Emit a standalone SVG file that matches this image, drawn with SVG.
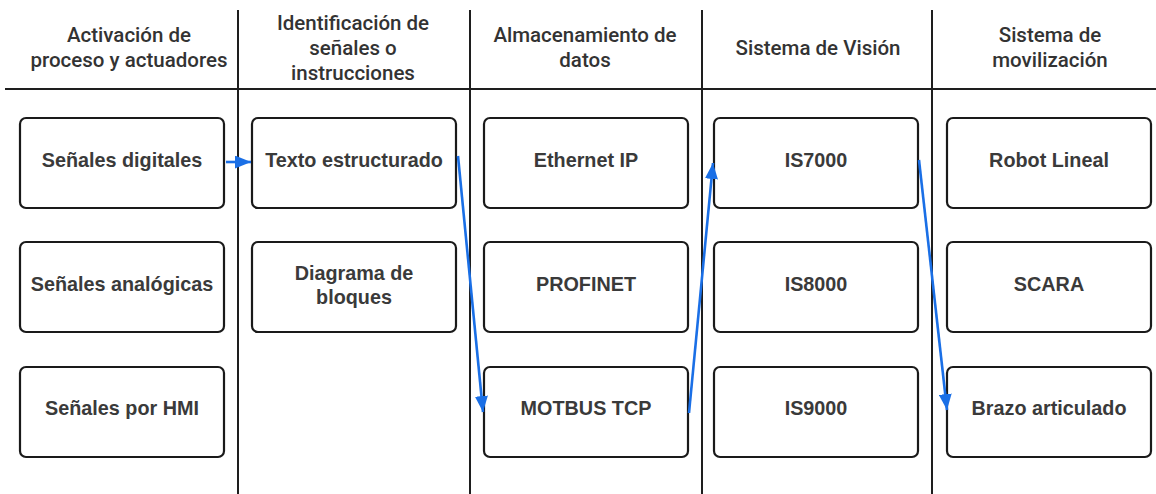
<svg xmlns="http://www.w3.org/2000/svg" width="1156" height="494" viewBox="0 0 1156 494">
<style>
.hdr{font-family:Roboto,"Liberation Sans",sans-serif;font-size:20.5px;font-weight:500;fill:#333;text-anchor:middle}
.lane{stroke:#1e1e1e;stroke-width:2;fill:none}
.box{fill:#fff;stroke:#1a1a1a;stroke-width:2.2}
.lbl{font-family:"Liberation Sans",Arial,sans-serif;font-size:19.8px;font-weight:bold;fill:#3a3a3a;text-anchor:middle}
.conn{stroke:#1a6fe6;stroke-width:2.6;fill:none}
</style>
<defs>
<marker id="ah" markerUnits="userSpaceOnUse" markerWidth="17" markerHeight="13" refX="16" refY="6.5" orient="auto">
<path d="M0,0 L16,6.5 L0,13 z" fill="#1a6fe6"/>
</marker>
</defs>
<g id="lanes">
<line class="lane" x1="5" y1="89" x2="1156" y2="89"/>
<line class="lane" x1="238" y1="10" x2="238" y2="494"/>
<line class="lane" x1="470" y1="10" x2="470" y2="494"/>
<line class="lane" x1="702" y1="10" x2="702" y2="494"/>
<line class="lane" x1="932" y1="10" x2="932" y2="494"/>
</g>
<g id="headers">
<text class="hdr" x="129" y="42">Activación de</text>
<text class="hdr" x="129" y="67">proceso y actuadores</text>
<text class="hdr" x="353" y="30">Identificación de</text>
<text class="hdr" x="353" y="55">señales o</text>
<text class="hdr" x="353" y="80">instrucciones</text>
<text class="hdr" x="585" y="42">Almacenamiento de</text>
<text class="hdr" x="585" y="67">datos</text>
<text class="hdr" x="818" y="55">Sistema de Visión</text>
<text class="hdr" x="1050" y="42">Sistema de</text>
<text class="hdr" x="1050" y="67">movilización</text>
</g>
<g id="n-senales-digitales"><rect class="box" x="20" y="118" width="204" height="90" rx="6"/><text class="lbl" x="122" y="167">Señales digitales</text></g>
<g id="n-senales-analogicas"><rect class="box" x="20" y="242" width="204" height="90" rx="6"/><text class="lbl" x="122" y="291">Señales analógicas</text></g>
<g id="n-senales-hmi"><rect class="box" x="20" y="367" width="204" height="90" rx="6"/><text class="lbl" x="122" y="415">Señales por HMI</text></g>
<g id="n-texto"><rect class="box" x="252" y="118" width="204" height="90" rx="6"/><text class="lbl" x="354" y="167">Texto estructurado</text></g>
<g id="n-diagrama"><rect class="box" x="252" y="242" width="204" height="90" rx="6"/><text class="lbl" x="354" y="280">Diagrama de</text><text class="lbl" x="354" y="304">bloques</text></g>
<g id="n-ethernet"><rect class="box" x="484" y="118" width="204" height="90" rx="6"/><text class="lbl" x="586" y="167">Ethernet IP</text></g>
<g id="n-profinet"><rect class="box" x="484" y="242" width="204" height="90" rx="6"/><text class="lbl" x="586" y="291">PROFINET</text></g>
<g id="n-motbus"><rect class="box" x="484" y="367" width="204" height="90" rx="6"/><text class="lbl" x="586" y="415">MOTBUS TCP</text></g>
<g id="n-is7000"><rect class="box" x="714" y="118" width="204" height="90" rx="6"/><text class="lbl" x="816" y="167">IS7000</text></g>
<g id="n-is8000"><rect class="box" x="714" y="242" width="204" height="90" rx="6"/><text class="lbl" x="816" y="291">IS8000</text></g>
<g id="n-is9000"><rect class="box" x="714" y="367" width="204" height="90" rx="6"/><text class="lbl" x="816" y="415">IS9000</text></g>
<g id="n-robot"><rect class="box" x="947" y="118" width="204" height="90" rx="6"/><text class="lbl" x="1049" y="167">Robot Lineal</text></g>
<g id="n-scara"><rect class="box" x="947" y="242" width="204" height="90" rx="6"/><text class="lbl" x="1049" y="291">SCARA</text></g>
<g id="n-brazo"><rect class="box" x="947" y="367" width="204" height="90" rx="6"/><text class="lbl" x="1049" y="415">Brazo articulado</text></g>
<g id="connectors">
<line class="conn" x1="226" y1="162" x2="251" y2="162" marker-end="url(#ah)"/>
<line class="conn" x1="458" y1="156" x2="483" y2="412" marker-end="url(#ah)"/>
<line class="conn" x1="689" y1="413" x2="713" y2="163" marker-end="url(#ah)"/>
<line class="conn" x1="919" y1="160" x2="947" y2="410" marker-end="url(#ah)"/>
</g>
</svg>
